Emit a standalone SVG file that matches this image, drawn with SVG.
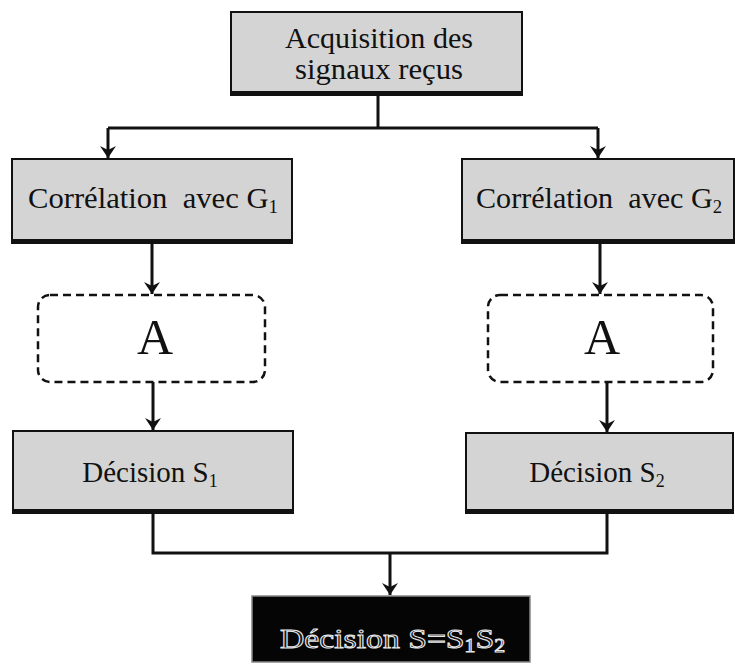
<svg xmlns="http://www.w3.org/2000/svg" width="735" height="669" viewBox="0 0 735 669">
<style>
.box{fill:#d4d4d4;stroke:#111;stroke-width:2}
.shadow{fill:none;stroke:#111;stroke-width:4}
.dash{fill:#fff;stroke:#111;stroke-width:2.5;stroke-dasharray:8 5}
.lbl{font-family:"Liberation Serif","Times New Roman",serif;font-size:29px;fill:#111}
.big{font-family:"Liberation Serif","Times New Roman",serif;font-size:50px;fill:#111}
.sub{font-size:18px}
.inv{font-family:"Liberation Serif","Times New Roman",serif;font-size:28px;fill:#111;stroke:#e8e8e8;stroke-width:1}
.conn{fill:none;stroke:#111;stroke-width:3}
</style>
<defs>
<marker id="ah" markerUnits="userSpaceOnUse" markerWidth="14" markerHeight="16" refX="12" refY="8" orient="auto">
<path d="M0,0 L12,8 L0,16 L4,8 Z" fill="#111"/>
</marker>
</defs>
<rect width="735" height="669" fill="#fff"/>
<g id="connectors">
<path class="conn" d="M378,95 V128"/>
<path class="conn" d="M108,128 H598"/>
<path class="conn" d="M108,128 V158" marker-end="url(#ah)"/>
<path class="conn" d="M598,128 V158" marker-end="url(#ah)"/>
<path class="conn" d="M152,243 V294" marker-end="url(#ah)"/>
<path class="conn" d="M600,243 V294" marker-end="url(#ah)"/>
<path class="conn" d="M153,382 V430" marker-end="url(#ah)"/>
<path class="conn" d="M607,382 V432" marker-end="url(#ah)"/>
<path class="conn" d="M153,513 V553 H607 V513"/>
<path class="conn" d="M390,553 V595" marker-end="url(#ah)"/>
</g>
<g id="acquisition">
<rect class="box" x="231" y="12" width="291" height="83"/>
<path class="shadow" d="M232,93 H521"/>
<text class="lbl" x="379" y="48" text-anchor="middle" textLength="188" lengthAdjust="spacingAndGlyphs">Acquisition des</text>
<text class="lbl" x="379" y="79" text-anchor="middle" textLength="168" lengthAdjust="spacingAndGlyphs">signaux reçus</text>
</g>
<g id="correlation1">
<rect class="box" x="12" y="159" width="280" height="84"/>
<path class="shadow" d="M13,241 H291"/>
<text class="lbl" x="28" y="208" textLength="250" lengthAdjust="spacingAndGlyphs" xml:space="preserve">Corrélation  avec G<tspan class="sub" dy="5">1</tspan></text>
</g>
<g id="correlation2">
<rect class="box" x="462" y="159" width="272" height="84"/>
<path class="shadow" d="M463,241 H733"/>
<text class="lbl" x="476" y="208" textLength="246" lengthAdjust="spacingAndGlyphs" xml:space="preserve">Corrélation  avec G<tspan class="sub" dy="5">2</tspan></text>
</g>
<g id="a1">
<rect class="dash" x="38" y="295" width="227" height="87" rx="12"/>
<text class="big" x="155" y="354" text-anchor="middle">A</text>
</g>
<g id="a2">
<rect class="dash" x="488" y="295" width="225" height="87" rx="12"/>
<text class="big" x="602" y="354" text-anchor="middle">A</text>
</g>
<g id="decision1">
<rect class="box" x="13" y="431" width="280" height="82"/>
<path class="shadow" d="M14,511 H292"/>
<text class="lbl" x="150" y="482" text-anchor="middle">Décision S<tspan class="sub" dy="5">1</tspan></text>
</g>
<g id="decision2">
<rect class="box" x="466" y="433" width="267" height="80"/>
<path class="shadow" d="M467,511 H732"/>
<text class="lbl" x="597" y="482" text-anchor="middle">Décision S<tspan class="sub" dy="5">2</tspan></text>
</g>
<g id="decision">
<rect x="252" y="596" width="278" height="66" fill="#050505" stroke="#888" stroke-width="1.5"/>
<text class="inv" x="280" y="648" textLength="225" lengthAdjust="spacingAndGlyphs">Décision  S=S<tspan class="sub" dy="4">1</tspan><tspan dy="-4">S</tspan><tspan class="sub" dy="4">2</tspan></text>
</g>
</svg>
